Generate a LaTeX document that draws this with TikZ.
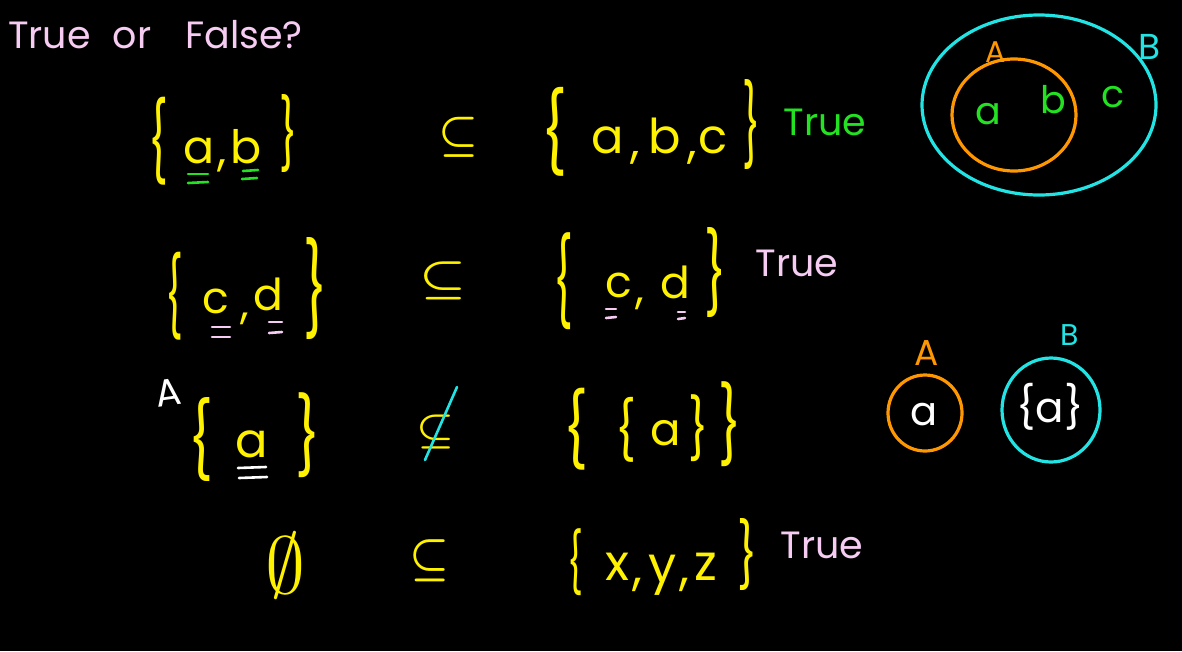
\documentclass[tikz,border=0pt]{standalone}
\usepackage{amsmath}
\usepackage{amssymb}
\usepackage{graphicx}
\usepackage{fontspec}
\setmainfont{Poppins}
\definecolor{hyellow}{RGB}{255,242,0}
\definecolor{hgreen}{RGB}{34,226,34}
\definecolor{hpink}{RGB}{246,204,242}
\definecolor{hcyan}{RGB}{34,228,228}
\definecolor{horange}{RGB}{255,152,0}
\usetikzlibrary{positioning}
\newcommand{\hbr}[3]{\resizebox*{#2pt}{#3pt}{#1}}
\tikzset{
	hand/.style={inner sep=0pt, font=\fontsize{#1}{#1}\selectfont},
	elem/.style={hand=#1, text=hyellow, anchor=base},
	setbr/.style={hand=48, text=hyellow},
	rel/.style={inner sep=0pt, text=hyellow},
	uline/.style={line width=2.6pt, line cap=round},
	venn/.style={line width=3.2pt},
}

\begin{document}
\begin{tikzpicture}[x=1pt, y=-1pt]
		\fill[black] (0,0) rectangle (1182,651);
		
		\node[hand=38, text=hpink, anchor=west] (title) at (8,35) {True\hspace{22pt}or\hspace{34pt}False?};
		
		% first row
		\node[setbr] (lb1) at (158,141) {\hbr{\{}{20}{88}};
		\node[elem=46] (a1) at (199,163) {a};
		\node[elem=46] (c1) at (222,165) {,};
		\node[elem=46] (b1) at (246,163) {b};
		\node[setbr] (rb1) at (288,134) {\hbr{\}}{18}{78}};
		\draw[uline, hgreen] ([shift={(-11,11)}]a1.base) -- ([shift={(9,11)}]a1.base);
		\draw[uline, hgreen] ([shift={(-11,20)}]a1.base) -- ([shift={(9,19)}]a1.base);
		\draw[uline, hgreen] ([shift={(-3,8)}]b1.base) -- ([shift={(12,7)}]b1.base);
		\draw[uline, hgreen] ([shift={(-4,16)}]b1.base) -- ([shift={(11,15)}]b1.base);
		\node[rel] (s1) at (458,137) {\hbr{$\boldsymbol{\subseteq}$}{40}{40}};
		\node[setbr] (lb2) at (554,132) {\hbr{\{}{26}{89}};
		\node[elem=48] (a2) at (608,153) {a};
		\node[elem=48] (c2) at (635,157) {,};
		\node[elem=48] (b2) at (665,153) {b};
		\node[elem=48] (c3) at (692,157) {,};
		\node[elem=48] (cc2) at (713,153) {c};
		\node[setbr] (rb2) at (751,125) {\hbr{\}}{18}{90}};
		\node[hand=38, text=hgreen] (t1) at (825,122) {True};
		
		% venn of A in B
		\draw[hcyan, venn] (1039,105) ellipse [x radius=117, y radius=90];
		\draw[horange, venn] (1014,115) ellipse [x radius=62, y radius=56];
		\node[hand=30, text=horange] (vA) at (996,52) {A};
		\node[hand=36, text=hcyan] (vB) at (1150,47) {B};
		\node[hand=38, text=hgreen] (va) at (988,114) {a};
		\node[hand=38, text=hgreen] (vb) at (1053,100) {b};
		\node[hand=38, text=hgreen] (vc) at (1113,97) {c};
		
		% second row
		\node[setbr] (lb3) at (174,296) {\hbr{\{}{18}{88}};
		\node[elem=44] (c4) at (216,313) {c};
		\node[elem=44] (cm4) at (245,318) {,};
		\node[elem=44] (d4) at (268,310) {d};
		\node[setbr] (rb3) at (315,289) {\hbr{\}}{24}{102}};
		\draw[uline, hpink] ([shift={(-4,14)}]c4.base) -- ([shift={(14,14)}]c4.base);
		\draw[uline, hpink] ([shift={(-4,24)}]c4.base) -- ([shift={(14,24)}]c4.base);
		\draw[uline, hpink] ([shift={(1,12)}]d4.base) -- ([shift={(14,12)}]d4.base);
		\draw[uline, hpink] ([shift={(1,23)}]d4.base) -- ([shift={(14,22)}]d4.base);
		\node[rel] (s2) at (443,281) {\hbr{$\boldsymbol{\subseteq}$}{47}{38}};
		\node[setbr] (lb4) at (563,281) {\hbr{\{}{20}{97}};
		\node[elem=44] (c5) at (619,297) {c};
		\node[elem=44] (cm5) at (640,303) {,};
		\node[elem=44] (d5) at (675,298) {d};
		\node[setbr] (rb4) at (715,273) {\hbr{\}}{22}{90}};
		\draw[uline, hpink] ([shift={(-13,12)}]c5.base) -- ([shift={(-3,12)}]c5.base);
		\draw[uline, hpink] ([shift={(-13,21)}]c5.base) -- ([shift={(-3,20)}]c5.base);
		\draw[uline, hpink] ([shift={(3,14)}]d5.base) -- ([shift={(10,14)}]d5.base);
		\draw[uline, hpink] ([shift={(3,21)}]d5.base) -- ([shift={(10,20)}]d5.base);
		\node[hand=38, text=hpink] (t2) at (797,263) {True};
		
		% third row
		\node[hand=38, text=white, rotate=8] (A3) at (168,393) {A};
		\node[setbr] (lb5) at (201,440) {\hbr{\{}{25}{84}};
		\node[elem=48] (a6) at (252,457) {a};
		\node[setbr] (rb5) at (308,435) {\hbr{\}}{25}{85}};
		\draw[uline, white] ([shift={(-14,11)}]a6.base) -- ([shift={(14,10)}]a6.base);
		\draw[uline, white] ([shift={(-13,21)}]a6.base) -- ([shift={(15,20)}]a6.base);
		\node[rel] (s3) at (436,432) {\hbr{$\boldsymbol{\subseteq}$}{38}{34}};
		\draw[uline, hcyan] ([shift={(21,-45)}]s3.center) -- ([shift={(-11,28)}]s3.center);
		\node[setbr] (lb6) at (576,429) {\hbr{\{}{25}{82}};
		\node[setbr] (lb7) at (626,430) {\hbr{\{}{21}{65}};
		\node[elem=45] (a7) at (666,445) {a};
		\node[setbr] (rb7) at (698,428) {\hbr{\}}{20}{67}};
		\node[setbr] (rb6) at (730,424) {\hbr{\}}{23}{85}};
		
		% a and {a}
		\draw[horange, venn] (925,413) ellipse [x radius=37, y radius=38];
		\node[hand=36, text=horange] (oA) at (927,353) {A};
		\node[hand=40, text=white] (oa) at (924,415) {a};
		\draw[hcyan, venn] (1051,410) ellipse [x radius=49, y radius=52];
		\node[hand=30, text=hcyan] (oB) at (1070,335) {B};
		\node[hand=42, text=white] (ob) at (1050,407) {\{a\}};
		
		% fourth row
		\node[rel] (e8) at (285,565) {\hbr{$\emptyset$}{40}{65}};
		\node[rel] (s4) at (430,561) {\hbr{$\boldsymbol{\subseteq}$}{40}{42}};
		\node[setbr] (lb8) at (575,562) {\hbr{\{}{16}{67}};
		\node[elem=50] (x8) at (617,580) {x};
		\node[elem=50] (cm8) at (637,584) {,};
		\node[elem=50] (y8) at (663,582) {y};
		\node[elem=50] (cn8) at (684,584) {,};
		\node[elem=50] (z8) at (706,580) {z};
		\node[setbr] (rb8) at (747,554) {\hbr{\}}{20}{72}};
		\node[hand=38, text=hpink] (t4) at (822,545) {True};
	\end{tikzpicture}
\end{document}
